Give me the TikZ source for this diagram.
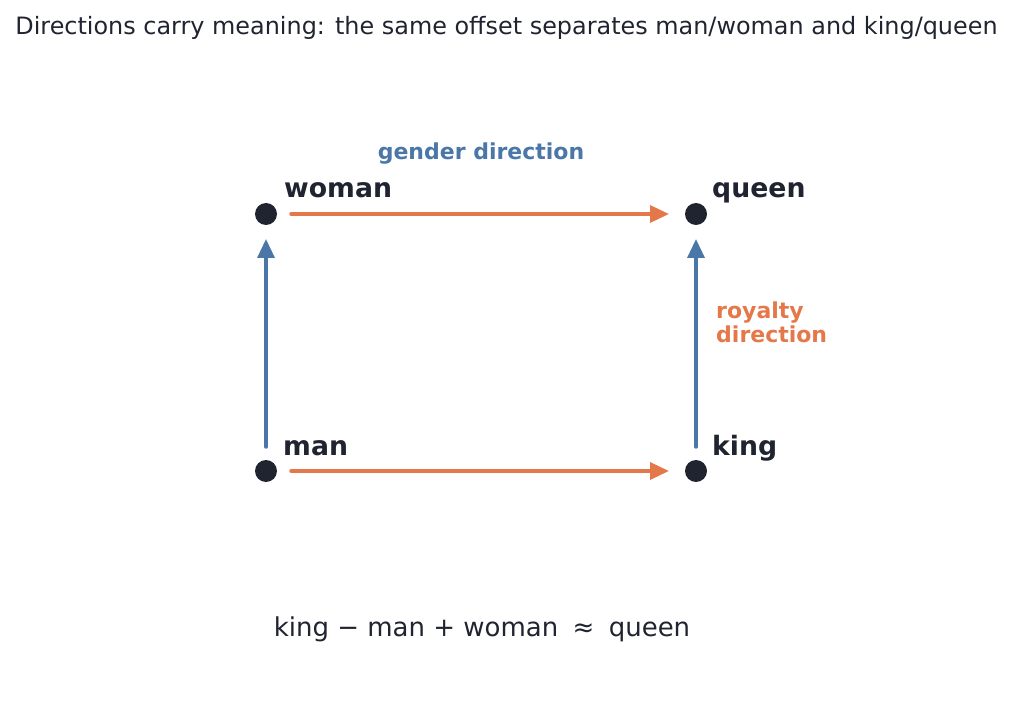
\documentclass[tikz,border=0pt]{standalone}
\usepackage{fontspec}
\setmainfont{DejaVu Sans}
\usetikzlibrary{arrows.meta}
\definecolor{ink}{HTML}{1F2430}
\definecolor{bluec}{HTML}{4A77A8}
\definecolor{orangec}{HTML}{E4784A}
\tikzset{
  dot/.style={circle,fill=ink,inner sep=0pt,minimum size=22pt},
  word/.style={font=\bfseries\fontsize{26.7}{30}\selectfont,text=ink,inner sep=0pt},
  offs/.style={line width=3.5pt,-{Triangle[length=19pt,width=17pt]},line cap=round},
  hor/.style={offs,draw=orangec},
  ver/.style={offs,draw=bluec},
}
\begin{document}
\begin{tikzpicture}[x=1pt,y=-1pt]
\useasboundingbox (0,0) rectangle (1013,727);
\node[font=\fontsize{23.9}{28}\selectfont,text=ink,anchor=base] (title) at (506.5,35) {Directions carry meaning: the same offset separates man/woman and king/queen};
\node[dot] (man) at (266,471) {};
\node[dot] (woman) at (266,214) {};
\node[dot] (king) at (696,471) {};
\node[dot] (queen) at (696,214) {};
\node[word,anchor=base west] (lman) at (283,456) {man};
\node[word,anchor=base west] (lwoman) at (284,198) {woman};
\node[word,anchor=base west] (lking) at (712,456) {king};
\node[word,anchor=base west] (lqueen) at (712,198) {queen};
\draw[hor] ([xshift=25pt]man.center) -- ([xshift=-27pt]king.center);
\draw[hor] ([xshift=25pt]woman.center) -- ([xshift=-27pt]queen.center);
\draw[ver] ([yshift=24pt]man.center) -- ([yshift=-25pt]woman.center);
\draw[ver] ([yshift=24pt]king.center) -- ([yshift=-25pt]queen.center);
\node[font=\bfseries\fontsize{22}{26}\selectfont,text=bluec,anchor=base] (gender) at (481,160) {gender direction};
\node[font=\bfseries\fontsize{22}{24}\selectfont,text=orangec,anchor=north west,align=left,inner sep=0pt] (royal) at (716,302) {royalty\\direction};
\node[font=\fontsize{26}{30}\selectfont,text=ink,anchor=base] (eq) at (482,636) {king − man + woman\hspace{0.55em}≈\hspace{0.55em}queen};
\end{tikzpicture}
\end{document}
